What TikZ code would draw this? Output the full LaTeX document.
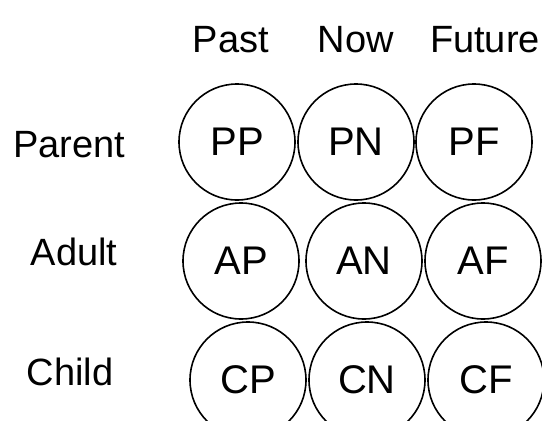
\documentclass[tikz,border=0pt]{standalone}
\usepackage{fontspec}
\setmainfont{Liberation Sans}
\usepackage{tikz}

\tikzset{
	state/.style={draw, circle, line width=1.6pt, minimum size=116pt, inner sep=0pt, font=\fontsize{40}{42}\selectfont},
	head/.style={font=\fontsize{38}{40}\selectfont},
}

\begin{document}
\begin{tikzpicture}[x=1pt, y=-1pt]
	\useasboundingbox (0, 0) rectangle (542, 421);
	% column headers
	\node[head] (past) at (231, 40) {Past};
	\node[head] (now) at (356, 40) {Now};
	\node[head] (future) at (485, 40) {Future};
	% row labels
	\node[head] (parent) at (69, 145) {Parent};
	\node[head] (adult) at (74, 252) {Adult};
	\node[head] (child) at (70, 372) {Child};
	% parent row
	\node[state] (PP) at (237, 142) {PP};
	\node[state] (PN) at (356, 142) {PN};
	\node[state] (PF) at (474, 142) {PF};
	% adult row
	\node[state] (AP) at (241, 261) {AP};
	\node[state] (AN) at (364, 261) {AN};
	\node[state] (AF) at (483, 261) {AF};
	% child row
	\node[state] (CP) at (248, 380) {CP};
	\node[state] (CN) at (367, 380) {CN};
	\node[state] (CF) at (486, 380) {CF};
\end{tikzpicture}
\end{document}
